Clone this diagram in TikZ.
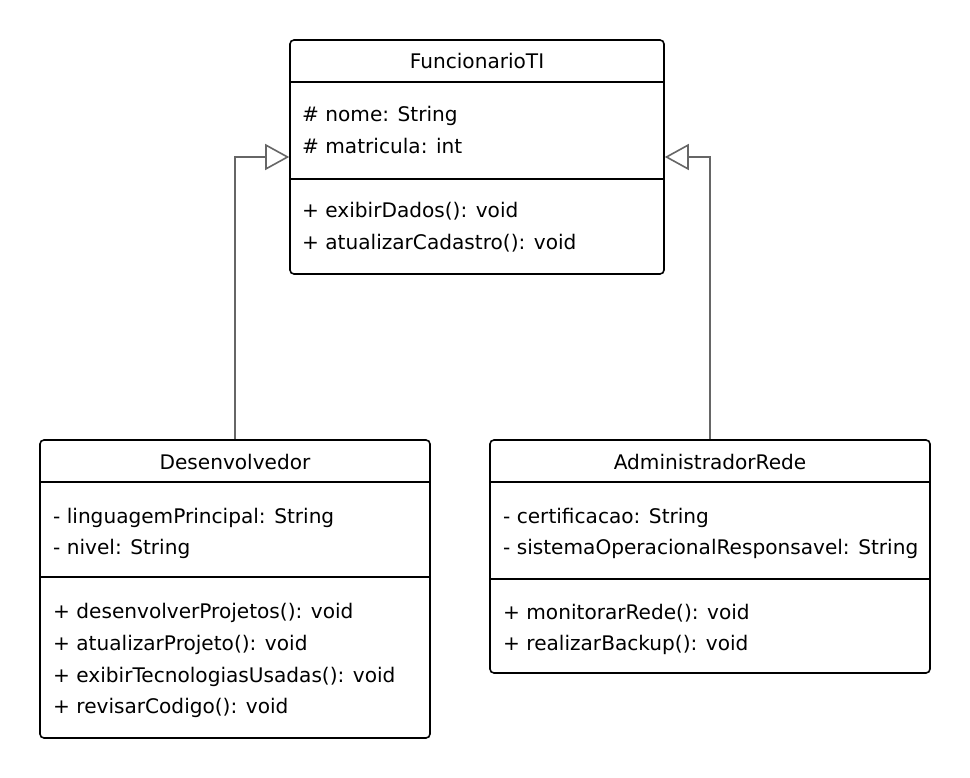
\documentclass[tikz,border=0pt]{standalone}
\usepackage{fontspec}
\setmainfont{DejaVu Sans}
\usetikzlibrary{arrows.meta}
\begin{document}
\begin{tikzpicture}[x=1pt,y=-1pt,
  classbox/.style={draw=black, line width=1.6pt, rounded corners=4pt, inner sep=0pt, fill=white},
  divider/.style={draw=black, line width=1.6pt},
  txt/.style={anchor=base west, inner sep=0pt, font=\fontsize{20.1}{24}\selectfont},
  ttl/.style={anchor=base, inner sep=0pt, font=\fontsize{20.1}{24}\selectfont},
  inh/.style={draw=black!60, line width=1.6pt, -{Triangle[open, length=24pt, width=26pt, fill=white]}}
]
\useasboundingbox (0,0) rectangle (970,778);
\fill[white] (0,0) rectangle (970,778);

% FuncionarioTI
\node[classbox, minimum width=374pt, minimum height=234pt] (fun) at (477,157) {};
\draw[divider] (290,82) -- (664,82);
\draw[divider] (290,179) -- (664,179);
\node[ttl] (funT) at (477,69) {FuncionarioTI};
\node[txt] (funA1) at (302,122) {\# nome: String};
\node[txt] (funA2) at (302,154) {\# matricula: int};
\node[txt] (funM1) at (302,218) {+ exibirDados(): void};
\node[txt] (funM2) at (302,250) {+ atualizarCadastro(): void};

% Desenvolvedor
\node[classbox, minimum width=390pt, minimum height=298pt] (dev) at (235,589) {};
\draw[divider] (40,482) -- (430,482);
\draw[divider] (40,577) -- (430,577);
\node[ttl] (devT) at (235,469) {Desenvolvedor};
\node[txt] (devA1) at (53,523) {- linguagemPrincipal: String};
\node[txt] (devA2) at (53,554) {- nivel: String};
\node[txt] (devM1) at (53,618) {+ desenvolverProjetos(): void};
\node[txt] (devM2) at (53,650) {+ atualizarProjeto(): void};
\node[txt] (devM3) at (53,682) {+ exibirTecnologiasUsadas(): void};
\node[txt] (devM4) at (53,713) {+ revisarCodigo(): void};

% AdministradorRede
\node[classbox, minimum width=440pt, minimum height=233pt] (adm) at (710,556.5) {};
\draw[divider] (490,482) -- (930,482);
\draw[divider] (490,579) -- (930,579);
\node[ttl] (admT) at (710,469) {AdministradorRede};
\node[txt] (admA1) at (503,523) {- certificacao: String};
\node[txt] (admA2) at (503,554) {- sistemaOperacionalResponsavel: String};
\node[txt] (admM1) at (503,619) {+ monitorarRede(): void};
\node[txt] (admM2) at (503,650) {+ realizarBackup(): void};

% inheritance
\draw[inh] (dev.north) |- (fun.west);
\draw[inh] (adm.north) |- (fun.east);
\end{tikzpicture}
\end{document}
